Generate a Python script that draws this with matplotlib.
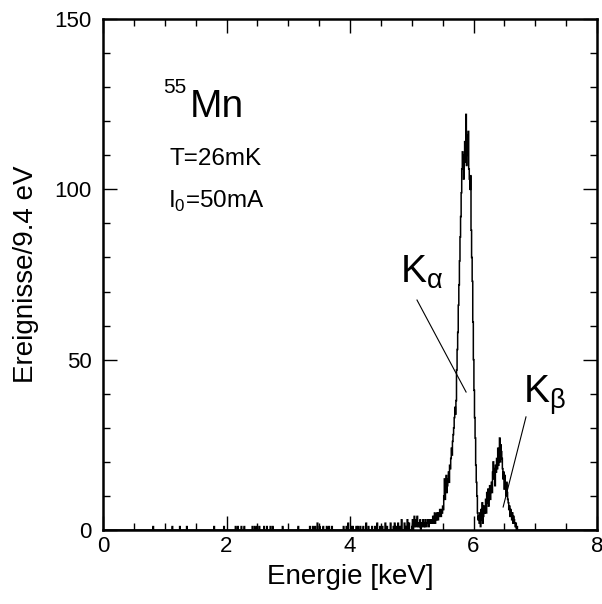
import matplotlib
matplotlib.use("Agg")
import matplotlib.pyplot as plt
from matplotlib.ticker import MultipleLocator
import numpy as np

plt.rcParams['font.family'] = ['Liberation Sans', 'DejaVu Sans']
plt.rcParams['mathtext.fontset'] = 'custom'
plt.rcParams['mathtext.rm'] = 'Liberation Sans'

# spectrum: 9.4 eV bins
bin_width = 0.0094  # keV

# isolated single events below 5 keV (energy in keV, counts)
low_energy = [0.81, 1.12, 1.25, 1.36, 1.80, 1.96, 2.15, 2.19, 2.24, 2.29,
              2.42, 2.46, 2.50, 2.53, 2.61, 2.66, 2.71, 2.75, 2.91, 3.16,
              3.35, 3.40, 3.44, 3.47, 3.51, 3.57, 3.62, 3.66, 3.71, 3.90,
              3.94, 3.97, 4.02, 4.05, 4.10, 4.13, 4.17, 4.22, 4.26, 4.30,
              4.36, 4.40, 4.44, 4.49, 4.53, 4.57, 4.60, 4.66, 4.70, 4.72,
              4.75, 4.78, 4.81, 4.84, 4.88, 4.90, 4.93, 4.96]
low_counts = [1, 1, 1, 1, 1, 1, 1, 1, 1, 1,
              1, 1, 1, 1, 1, 1, 1, 1, 1, 1,
              1, 1, 1, 2, 1, 1, 1, 1, 1, 1,
              1, 2, 1, 1, 1, 1, 1, 1, 2, 1,
              1, 1, 2, 1, 1, 2, 1, 2, 1, 2,
              1, 2, 1, 3, 2, 1, 3, 2]

# dense part of the spectrum, one value per bin starting at 5.0 keV
peak_start = 5.0
peak_counts = [1, 3, 0, 2, 4, 1, 2, 3, 1, 4, 2,
               1, 2, 1, 3, 0, 2, 1, 2, 3, 1, 2, 1, 3, 2, 1, 2, 3, 2, 1, 3, 2, 2, 3,
               2, 3, 4, 2, 3, 5, 2, 4, 3, 5, 4, 3, 5, 4, 6, 5,
               4, 6, 5, 7, 6,
               10, 15, 9, 14, 16, 11, 13,
               15, 17, 14, 19, 18,
               21, 24, 22, 26, 28,
               30, 33, 36, 34, 38,
               47, 53, 58,
               66, 72, 79,
               86, 92, 99,
               106, 111, 108,
               103, 110, 114, 108,
               122,
               107, 116, 110, 117, 106,
               103, 100, 104,
               88, 80, 73,
               61, 50,
               41, 33, 27,
               19, 14, 10,
               5, 3, 4,
               2, 5, 1, 6, 3, 8, 2, 4, 7, 5,
               6, 9, 5, 11, 8, 12, 7, 10, 13, 9, 12,
               14, 11, 17, 20, 15, 18, 13, 19, 17,
               21, 18, 24, 19, 22, 27, 20, 25, 23, 21,
               18, 15, 17, 12, 16, 13, 10, 14, 11, 9,
               8, 6, 7, 4, 6, 5, 3, 5, 2, 4, 3, 2,
               1, 2, 0, 1, 0]

n_bins = int(8.0 / bin_width)
edges = np.arange(n_bins + 1) * bin_width
counts = np.zeros(n_bins)
for e, c in zip(low_energy, low_counts):
    counts[int(e / bin_width)] += c
i0 = int(round(peak_start / bin_width))
counts[i0:i0 + len(peak_counts)] = peak_counts

fig = plt.figure(figsize=(6.02, 6.04), dpi=100)
ax = fig.add_axes([103 / 602, 1 - 530 / 604, 494 / 602, 511 / 604])

ax.stairs(counts, edges, color='black', lw=1.1)

ax.set_xlim(0, 8)
ax.set_ylim(0, 150)
ax.xaxis.set_major_locator(MultipleLocator(2))
ax.xaxis.set_minor_locator(MultipleLocator(0.5))
ax.yaxis.set_major_locator(MultipleLocator(50))
ax.yaxis.set_minor_locator(MultipleLocator(10))
ax.tick_params(which='both', direction='in', top=True, right=True, width=1.0)
ax.tick_params(which='major', length=10, labelsize=16)
ax.tick_params(which='minor', length=5)
ax.tick_params(axis='x', pad=4)
ax.tick_params(axis='y', pad=8)
for s in ax.spines.values():
    s.set_linewidth(1.8)

ax.set_xlabel('Energie [keV]', fontsize=20, labelpad=5)
ax.set_ylabel('Ereignisse/9.4 eV', fontsize=20, labelpad=11)

# labels inside the plot
ax.text(0.97, 128.3, '55', fontsize=15, va='baseline', ha='left')
ax.text(1.40, 121.2, 'Mn', fontsize=28, va='baseline', ha='left')
ax.text(1.085, 107.1, 'T=26mK', fontsize=17.5, va='baseline', ha='left')
ax.text(1.05, 94.5, r'I$_\mathregular{0}$=50mA', fontsize=17.5, va='baseline', ha='left')

ax.text(4.81, 72.5, r'K$_\mathregular{α}$', fontsize=28, va='baseline', ha='left')
ax.plot([5.085, 5.88], [67.5, 40.5], color='black', lw=0.8)
ax.text(6.80, 37.3, r'K$_\mathregular{β}$', fontsize=28, va='baseline', ha='left')
ax.plot([6.85, 6.48], [33.2, 6.75], color='black', lw=0.8)

fig.savefig('out.png', dpi=100)
